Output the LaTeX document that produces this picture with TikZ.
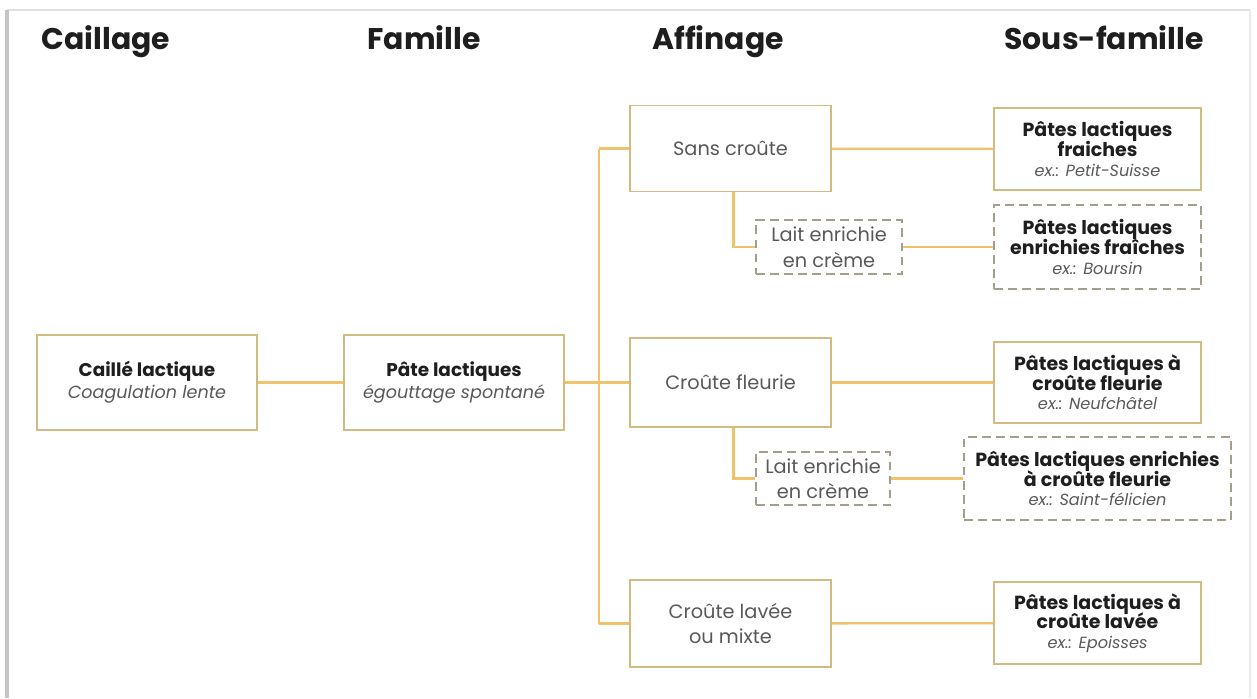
\documentclass[tikz,border=0pt]{standalone}
\usepackage{fontspec}
\setmainfont{Poppins}
\usepackage{xcolor}
\usetikzlibrary{positioning,calc,backgrounds}

\definecolor{boxgold}{HTML}{D3BA80}
\definecolor{linegold}{HTML}{F0C26C}
\definecolor{dashgray}{HTML}{A69E8C}
\definecolor{textdark}{HTML}{1E1E1E}
\definecolor{textgray}{HTML}{595959}
\definecolor{framegray}{HTML}{C4C4C4}

\newcommand{\exemple}[1]{{\fontsize{9.2}{11.2}\selectfont\mdseries\itshape\color{textgray}#1}}
\newcommand{\serre}{\setlength{\lineskiplimit}{-8pt}}

\begin{document}
\begin{tikzpicture}[x=0.02cm,y=-0.02cm]
            \useasboundingbox (0,0) rectangle (1257,698);
            \fill[white] (0,0) rectangle (1257,698);
            \draw[framegray!50,line width=1pt] (7,10) -- (1250,10);
            \draw[framegray!35,line width=1pt] (1250,10) -- (1250,698);
            \draw[framegray,line width=2.2pt] (7,10) -- (7,698);

            \begin{scope}[every node/.style={anchor=base,font=\fontsize{17}{19}\selectfont\bfseries,text=textdark}]
                \node (Caillage) at (106,49) {Caillage};
                \node (Famille) at (424,49) {Famille};
                \node (Affinage) at (718,49) {Affinage};
                \node (SousFamille) at (1104,49) {Sous-famille};
            \end{scope}

            \begin{scope}[every node/.style={draw=boxgold,line width=1.1pt,fill=white,align=center,inner sep=2pt,
                          minimum width=4.4cm,minimum height=1.9cm,font=\fontsize{10.5}{12.5}\selectfont}]
                \node (caille) at (147,382.5)
                    {\textcolor{textdark}{\textbf{Caillé lactique}}\\{\fontsize{10}{12}\selectfont\itshape\color{textgray}Coagulation lente}};
                \node (pate) at (454,382.5)
                    {\textcolor{textdark}{\textbf{Pâte lactiques}}\\{\fontsize{10}{12}\selectfont\itshape\color{textgray}égouttage spontané}};
            \end{scope}

            \begin{scope}[every node/.style={draw=boxgold,line width=1.1pt,fill=white,align=center,
                          text=textgray,font=\fontsize{11}{14.5}\selectfont,minimum width=4.02cm}]
                \node[minimum height=1.72cm] (sans) at (730.5,148.5) {Sans croûte};
                \node[minimum height=1.78cm] (fleurie) at (730.5,382.5) {Croûte fleurie};
                \node[minimum height=1.74cm] (lavee) at (730.5,623.5) {Croûte lavée\\ou mixte};
            \end{scope}

            \begin{scope}[every node/.style={draw=dashgray,line width=1pt,dash pattern=on 5pt off 3pt,
                          fill=white,align=center,text=textgray,font=\fontsize{11}{14.5}\selectfont,inner sep=1pt}]
                \node[minimum width=2.92cm,minimum height=1.08cm] (lait1) at (829,247) {Lait enrichie\\en crème};
                \node[minimum width=2.68cm,minimum height=1.06cm] (lait2) at (823,478.5) {Lait enrichie\\en crème};
            \end{scope}

            \begin{scope}[every node/.style={fill=white,align=center,text=textdark,inner sep=1pt,
                          font=\fontsize{10.8}{11.2}\selectfont\bfseries\serre}]
                \node[draw=boxgold,line width=1.1pt,minimum width=4.14cm,minimum height=1.64cm] (fraiche) at (1097.5,149)
                    {Pâtes lactiques\\fraiches\\\exemple{ex.: Petit-Suisse}};
                \node[draw=dashgray,line width=1pt,dash pattern=on 5pt off 3pt,minimum width=4.14cm,minimum height=1.68cm] (enrfraiche) at (1097.5,247)
                    {Pâtes lactiques\\enrichies fraîches\\\exemple{ex.: Boursin}};
                \node[draw=boxgold,line width=1.1pt,minimum width=4.14cm,minimum height=1.62cm] (pfleurie) at (1097.5,382.5)
                    {Pâtes lactiques à\\croûte fleurie\\\exemple{ex.: Neufchâtel}};
                \node[draw=dashgray,line width=1pt,dash pattern=on 5pt off 3pt,minimum width=5.34cm,minimum height=1.66cm] (enrfleurie) at (1097.5,478.5)
                    {Pâtes lactiques enrichies\\à croûte fleurie\\\exemple{ex.: Saint-félicien}};
                \node[draw=boxgold,line width=1.1pt,minimum width=4.14cm,minimum height=1.64cm] (plavee) at (1097.5,623)
                    {Pâtes lactiques à\\croûte lavée\\\exemple{ex.: Epoisses}};
            \end{scope}

            \coordinate (tronchaut) at (599,148.5);
            \coordinate (tronbas) at (599,623.5);

            \begin{scope}[every edge/.style={draw=linegold,line width=1.3pt}]
                \path [-] (caille) edge node {} (pate);
                \path [-] (pate) edge node {} (fleurie);
                \path [-] (sans) edge node {} (fraiche);
                \path [-] (lait1) edge node {} (enrfraiche);
                \path [-] (fleurie) edge node {} (pfleurie);
                \path [-] (lait2) edge node {} (enrfleurie);
                \path [-] (lavee) edge node {} (plavee);
                \path [-] (tronchaut) edge node {} (tronbas);
                \path [-] (tronchaut) edge node {} (sans.west);
                \path [-] (tronbas) edge node {} (lavee.west);
            \end{scope}
            \draw[linegold,line width=1.3pt] ([xshift=0.06cm]sans.south) |- (lait1.west);
            \draw[linegold,line width=1.3pt] ([xshift=0.06cm]fleurie.south) |- (lait2.west);
        \end{tikzpicture}
\end{document}
